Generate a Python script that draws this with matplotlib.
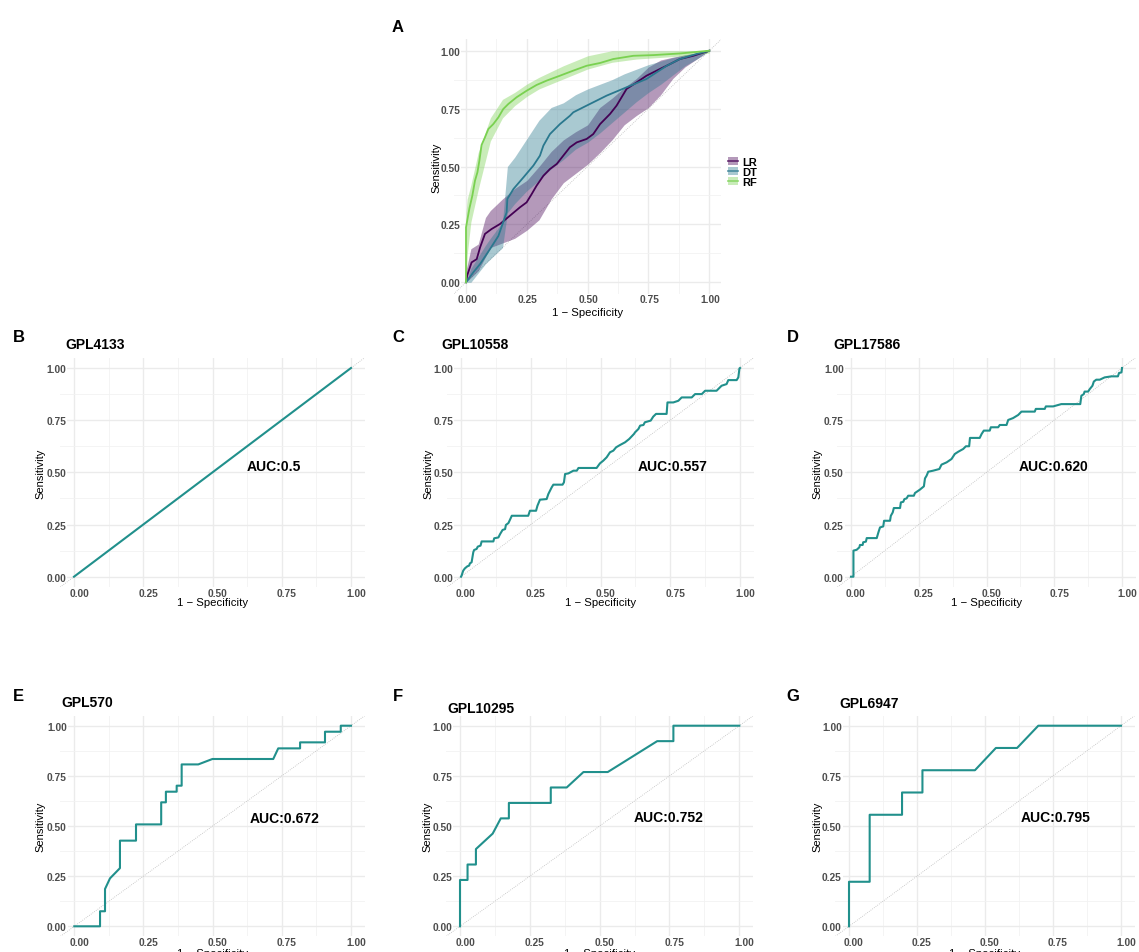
import numpy as np
import matplotlib.pyplot as plt
import matplotlib.transforms as mtransforms
from matplotlib.lines import Line2D
from matplotlib.patches import Patch

plt.rcParams['font.family'] = ['Liberation Sans', 'DejaVu Sans']

W, H = 1139, 953

# ---- panel A: ROC of three models with confidence bands ----
lr_x = [0, 0.005, 0.023, 0.044, 0.058, 0.078, 0.105, 0.14, 0.181, 0.222, 0.249, 0.27, 0.29,
        0.318, 0.345, 0.373, 0.4, 0.427, 0.455, 0.496, 0.523, 0.551, 0.592, 0.619, 0.66,
        0.701, 0.742, 0.797, 0.838, 0.879, 0.934, 1.0]
lr_y = [0, 0.03, 0.086, 0.10, 0.151, 0.209, 0.23, 0.252, 0.288, 0.324, 0.345, 0.381, 0.417,
        0.46, 0.489, 0.511, 0.547, 0.583, 0.604, 0.619, 0.64, 0.683, 0.727, 0.763, 0.835,
        0.863, 0.892, 0.921, 0.942, 0.964, 0.978, 1.0]

dt_x = [0, 0.03, 0.058, 0.099, 0.133, 0.167, 0.17, 0.195, 0.236, 0.277, 0.304, 0.318, 0.345,
        0.386, 0.427, 0.441, 0.496, 0.578, 0.66, 0.742, 0.825, 0.879, 0.948, 1.0]
dt_y = [0, 0.043, 0.079, 0.144, 0.2, 0.302, 0.36, 0.403, 0.453, 0.504, 0.547, 0.59, 0.64,
        0.683, 0.719, 0.734, 0.763, 0.806, 0.842, 0.878, 0.935, 0.964, 0.986, 1.0]

rf_x = [0, 0, 0.014, 0.026, 0.037, 0.047, 0.055, 0.064, 0.078, 0.092, 0.112, 0.133, 0.153,
        0.174, 0.208, 0.249, 0.29, 0.332, 0.386, 0.441, 0.496, 0.551, 0.605, 0.688, 0.77,
        0.879, 1.0]
rf_y = [0, 0.237, 0.319, 0.374, 0.439, 0.475, 0.525, 0.593, 0.626, 0.662, 0.683, 0.712, 0.748,
        0.77, 0.799, 0.827, 0.852, 0.871, 0.892, 0.914, 0.935, 0.947, 0.964, 0.978, 0.981,
        0.988, 1.0]

lr_band_x = [0, 0.02, 0.05, 0.08, 0.1, 0.15, 0.2, 0.25, 0.3, 0.35, 0.4, 0.45, 0.5, 0.55,
             0.6, 0.65, 0.7, 0.75, 0.8, 0.85, 0.9, 0.95, 1.0]
lr_lo = [0, 0.02, 0.05, 0.11, 0.15, 0.17, 0.19, 0.225, 0.27, 0.36, 0.43, 0.47, 0.51, 0.56,
         0.615, 0.68, 0.72, 0.755, 0.81, 0.88, 0.93, 0.965, 1.0]
lr_hi = [0.05, 0.145, 0.165, 0.28, 0.31, 0.36, 0.405, 0.44, 0.50, 0.565, 0.615, 0.65, 0.68,
         0.755, 0.795, 0.84, 0.88, 0.93, 0.96, 0.972, 0.982, 0.99, 1.0]

dt_band_x = [0, 0.02, 0.05, 0.08, 0.1, 0.15, 0.17, 0.2, 0.25, 0.3, 0.35, 0.4, 0.45, 0.5,
             0.55, 0.6, 0.65, 0.7, 0.75, 0.8, 0.85, 0.9, 0.95, 1.0]
dt_lo = [0, 0.0, 0.04, 0.08, 0.10, 0.15, 0.30, 0.34, 0.395, 0.44, 0.49, 0.53, 0.575, 0.605,
         0.645, 0.69, 0.735, 0.78, 0.82, 0.855, 0.895, 0.935, 0.965, 1.0]
dt_hi = [0, 0.06, 0.11, 0.16, 0.19, 0.26, 0.50, 0.54, 0.62, 0.70, 0.755, 0.775, 0.81, 0.835,
         0.855, 0.875, 0.90, 0.92, 0.94, 0.955, 0.97, 0.982, 0.99, 1.0]

rf_band_x = [0, 0.005, 0.02, 0.05, 0.1, 0.15, 0.2, 0.25, 0.3, 0.4, 0.5, 0.6, 0.7, 0.8, 0.9, 1.0]
rf_lo = [0, 0.12, 0.26, 0.40, 0.61, 0.71, 0.763, 0.803, 0.835, 0.878, 0.921, 0.95, 0.964,
         0.971, 0.978, 0.99]
rf_hi = [0.30, 0.36, 0.42, 0.56, 0.71, 0.79, 0.82, 0.856, 0.885, 0.935, 0.978, 1.0, 1.0,
         1.0, 1.0, 1.0]

models = ['LR', 'DT', 'RF']
model_colors = ['#440154', '#2A788E', '#7AD151']

# ---- panels B-G: single ROC per platform ----
platforms = ['GPL4133', 'GPL10558', 'GPL17586', 'GPL570', 'GPL10295', 'GPL6947']
auc_labels = ['AUC:0.5', 'AUC:0.557', 'AUC:0.620', 'AUC:0.672', 'AUC:0.752', 'AUC:0.795']

b_x = [0, 1.0]
b_y = [0, 1.0]

c_x = [0, 0.002, 0.008, 0.014, 0.023, 0.029, 0.032, 0.038, 0.044, 0.047, 0.056, 0.060, 0.070,
       0.074, 0.116, 0.119, 0.134, 0.140, 0.149, 0.158, 0.161, 0.170, 0.178, 0.182, 0.241,
       0.247, 0.269, 0.274, 0.283, 0.307, 0.313, 0.325, 0.331, 0.364, 0.369, 0.373, 0.385,
       0.403, 0.415, 0.421, 0.486, 0.498, 0.510, 0.522, 0.534, 0.546, 0.556, 0.570, 0.588,
       0.603, 0.620, 0.624, 0.636, 0.642, 0.654, 0.659, 0.680, 0.689, 0.699, 0.737, 0.740,
       0.761, 0.779, 0.791, 0.827, 0.839, 0.863, 0.875, 0.916, 0.928, 0.934, 0.952, 0.958,
       0.988, 0.994, 0.998, 1.0]
c_y = [0, 0.005, 0.029, 0.040, 0.050, 0.053, 0.064, 0.069, 0.117, 0.128, 0.133, 0.144, 0.149,
       0.169, 0.169, 0.184, 0.188, 0.204, 0.224, 0.228, 0.248, 0.257, 0.280, 0.292, 0.292,
       0.316, 0.316, 0.340, 0.369, 0.372, 0.396, 0.428, 0.441, 0.441, 0.452, 0.492, 0.495,
       0.508, 0.508, 0.521, 0.521, 0.543, 0.556, 0.572, 0.596, 0.604, 0.620, 0.631, 0.644,
       0.660, 0.684, 0.692, 0.708, 0.724, 0.727, 0.740, 0.748, 0.767, 0.780, 0.780, 0.835,
       0.835, 0.843, 0.859, 0.859, 0.875, 0.875, 0.891, 0.891, 0.907, 0.915, 0.923, 0.942,
       0.942, 0.955, 0.998, 1.0]

d_x = [0, 0.009, 0.009, 0.021, 0.031, 0.033, 0.043, 0.045, 0.055, 0.058, 0.095, 0.101, 0.107,
       0.119, 0.122, 0.144, 0.147, 0.154, 0.158, 0.181, 0.184, 0.193, 0.197, 0.205, 0.211,
       0.232, 0.236, 0.254, 0.269, 0.273, 0.279, 0.285, 0.303, 0.326, 0.334, 0.353, 0.371,
       0.383, 0.396, 0.414, 0.424, 0.436, 0.439, 0.475, 0.482, 0.490, 0.512, 0.516, 0.543,
       0.549, 0.574, 0.580, 0.598, 0.617, 0.629, 0.678, 0.682, 0.715, 0.719, 0.746, 0.776,
       0.846, 0.850, 0.859, 0.862, 0.875, 0.881, 0.891, 0.896, 0.905, 0.918, 0.936, 0.961,
       0.985, 0.989, 0.998, 1.0, 1.0]
d_y = [0, 0, 0.125, 0.129, 0.141, 0.152, 0.152, 0.165, 0.168, 0.185, 0.185, 0.212, 0.236,
       0.241, 0.268, 0.268, 0.292, 0.308, 0.329, 0.329, 0.356, 0.359, 0.372, 0.375, 0.388,
       0.388, 0.401, 0.417, 0.433, 0.471, 0.484, 0.503, 0.508, 0.516, 0.537, 0.548, 0.564,
       0.588, 0.599, 0.612, 0.625, 0.625, 0.665, 0.665, 0.684, 0.700, 0.700, 0.716, 0.716,
       0.727, 0.727, 0.751, 0.760, 0.775, 0.791, 0.791, 0.804, 0.804, 0.816, 0.816, 0.827,
       0.827, 0.867, 0.875, 0.887, 0.887, 0.899, 0.915, 0.935, 0.944, 0.944, 0.955, 0.960,
       0.960, 0.976, 0.979, 0.998, 1.0]

e_x = [0, 0.093, 0.093, 0.111, 0.111, 0.129, 0.165, 0.165, 0.223, 0.223, 0.314, 0.314, 0.331,
       0.331, 0.370, 0.370, 0.388, 0.388, 0.448, 0.499, 0.719, 0.737, 0.816, 0.816, 0.906,
       0.906, 0.963, 0.963, 1.0]
e_y = [0, 0, 0.075, 0.075, 0.186, 0.239, 0.290, 0.427, 0.427, 0.508, 0.508, 0.618, 0.618,
       0.671, 0.671, 0.701, 0.701, 0.807, 0.807, 0.834, 0.834, 0.887, 0.887, 0.917, 0.917,
       0.970, 0.970, 1.0, 1.0]

f_x = [0, 0, 0.027, 0.027, 0.057, 0.057, 0.117, 0.146, 0.175, 0.175, 0.325, 0.325, 0.382,
       0.442, 0.529, 0.706, 0.764, 0.764, 1.0]
f_y = [0, 0.231, 0.231, 0.308, 0.308, 0.385, 0.462, 0.538, 0.538, 0.615, 0.615, 0.692, 0.692,
       0.769, 0.769, 0.923, 0.923, 1.0, 1.0]

g_x = [0, 0, 0.076, 0.076, 0.195, 0.195, 0.27, 0.27, 0.463, 0.54, 0.618, 0.696, 1.0]
g_y = [0, 0.222, 0.222, 0.556, 0.556, 0.667, 0.667, 0.778, 0.778, 0.889, 0.889, 1.0, 1.0]

curves = [(b_x, b_y), (c_x, c_y), (d_x, d_y), (e_x, e_y), (f_x, f_y), (g_x, g_y)]
roc_color = '#21908C'
ticks = [0, 0.25, 0.5, 0.75, 1.0]
tick_labels = ['0.00', '0.25', '0.50', '0.75', '1.00']


def add_panel(fig, x0, x1, y0, y1, xshift=0.0):
    # x0/x1 = pixel of data 0/1 on x, y0/y1 = pixel of data 0/1 on y
    lim = (-0.05, 1.05)
    sx = x1 - x0
    sy = y0 - y1
    L = x0 + lim[0] * sx
    R = x0 + lim[1] * sx
    T = y0 - lim[1] * sy
    B = y0 - lim[0] * sy
    ax = fig.add_axes([L / W, 1 - B / H, (R - L) / W, (B - T) / H])
    ax.set_xlim(*lim)
    ax.set_ylim(*lim)
    for s in ax.spines.values():
        s.set_visible(False)
    ax.set_xticks(ticks)
    ax.set_xticklabels(tick_labels)
    ax.set_yticks(ticks)
    ax.set_yticklabels(tick_labels)
    ax.set_xticks([0.125, 0.375, 0.625, 0.875], minor=True)
    ax.set_yticks([0.125, 0.375, 0.625, 0.875], minor=True)
    ax.tick_params(which='both', length=0, labelsize=7.4, labelcolor='#4D4D4D')
    ax.tick_params(axis='x', pad=0.4)
    ax.tick_params(axis='y', pad=-4.6)
    for lab in ax.get_yticklabels():
        lab.set_fontweight('bold')
        lab.set_bbox(dict(facecolor='white', edgecolor='none', pad=0.6))
        lab.set_zorder(5)
    shift = mtransforms.ScaledTranslation(xshift / 100, 0, fig.dpi_scale_trans)
    for lab in ax.get_xticklabels():
        lab.set_fontweight('bold')
        lab.set_transform(lab.get_transform() + shift)
    ax.grid(which='major', color='#EBEBEB', lw=1.0)
    ax.grid(which='minor', color='#F2F2F2', lw=0.6)
    ax.set_axisbelow(True)
    ax.plot([-0.05, 1.05], [-0.05, 1.05], color='#BDBDBD', lw=0.6, ls=(0, (1, 1.5)), zorder=1)
    return ax


def axis_titles(ax, ylab_px, xlab_px):
    fig = ax.figure
    bb = ax.get_position()
    fig.text(ylab_px / W, bb.y0 + bb.height / 2, 'Sensitivity', rotation=90,
             ha='center', va='center', fontsize=8, color='black')
    fig.text(bb.x0 + bb.width / 2, 1 - xlab_px / H, '1 \u2212 Specificity',
             ha='center', va='center', fontsize=8.2, color='black')


fig = plt.figure(figsize=(W / 100, H / 100), dpi=100)

# panel A
axA = add_panel(fig, 466, 709.3, 283.3, 51.7, xshift=1)
bands = [(lr_band_x, lr_lo, lr_hi), (dt_band_x, dt_lo, dt_hi), (rf_band_x, rf_lo, rf_hi)]
for (bx, lo, hi), col in zip(bands, model_colors):
    axA.fill_between(bx, lo, hi, color=col, alpha=0.4, lw=0, zorder=2)
axA.plot(lr_x, lr_y, color=model_colors[0], lw=1.3, zorder=3)
axA.plot(dt_x, dt_y, color=model_colors[1], lw=1.3, zorder=3)
axA.plot(rf_x, rf_y, color=model_colors[2], lw=1.3, zorder=3)
axis_titles(axA, 436, 313)
fig.text(398 / W, 1 - 27 / H, 'A', fontsize=12, fontweight='bold', ha='center', va='center')

handles = [(Patch(facecolor=c, alpha=0.4, lw=0), Line2D([], [], color=c, lw=1.3, alpha=0.7))
           for c in model_colors]
fig.legend(handles, models, loc='center left', bbox_to_anchor=(728 / W, 1 - 172.5 / H),
           frameon=False, handlelength=0.9, handleheight=0.7, handletextpad=0.35,
           labelspacing=0.0, borderpad=0, borderaxespad=0,
           prop={'size': 8, 'weight': 'bold'})

# panels B-G, pixel anchors of data 0 and 1 on each axis
anchors = [
    (74, 351, 577.7, 369), (461, 740, 577.7, 369), (851, 1122, 577.7, 369),
    (74.3, 351, 927.3, 726.7), (460, 739.3, 927.3, 726.7), (849, 1121, 927.3, 726.7),
]
ylab_pos = [40.7, 428, 817, 40.7, 427.7, 817]
xlab_pos = [603, 603, 603, 954, 954, 954]
title_pos = [(65, 345), (441, 345), (833, 345), (61, 703), (447, 709), (839, 704)]
letter_pos = [(19, 338), (398, 338), (793, 338), (18, 697), (398, 697), (793, 697)]
letters = ['B', 'C', 'D', 'E', 'F', 'G']
auc_pos = [(0.625, 0.53), (0.634, 0.53), (0.62, 0.53), (0.635, 0.54), (0.62, 0.545), (0.63, 0.545)]

for i, (name, (cx, cy)) in enumerate(zip(platforms, curves)):
    ax = add_panel(fig, *anchors[i], xshift=5)
    ax.plot(cx, cy, color=roc_color, lw=1.5, zorder=3)
    ax.text(auc_pos[i][0], auc_pos[i][1], auc_labels[i], fontsize=10, fontweight='bold',
            ha='left', va='center', zorder=4)
    axis_titles(ax, ylab_pos[i], xlab_pos[i])
    fig.text(title_pos[i][0] / W, 1 - title_pos[i][1] / H, name, fontsize=10,
             fontweight='bold', ha='left', va='center')
    fig.text(letter_pos[i][0] / W, 1 - letter_pos[i][1] / H, letters[i], fontsize=12,
             fontweight='bold', ha='center', va='center')

fig.savefig('out.png', dpi=100, facecolor='white')
